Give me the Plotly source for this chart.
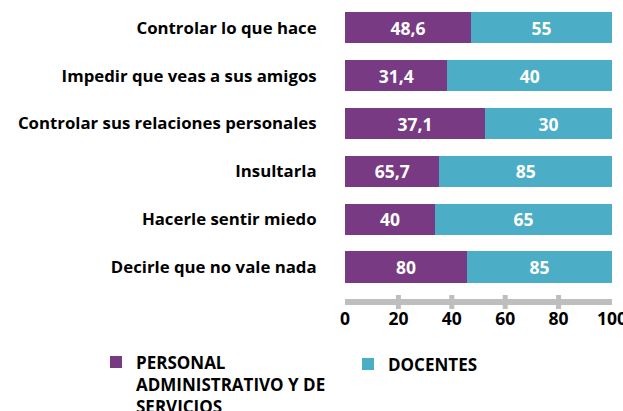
import plotly.graph_objects as go

categories = [
    "Controlar lo que hace",
    "Impedir que veas a sus amigos",
    "Controlar sus relaciones personales",
    "Insultarla",
    "Hacerle sentir miedo",
    "Decirle que no vale nada",
]
# values printed on the bars
pas_labels = [48.6, 31.4, 37.1, 65.7, 40, 80]
doc_labels = [55, 40, 30, 85, 65, 85]
# bar lengths as drawn (share of the 0-100 scale)
pas_share = [47.2, 38.3, 52.4, 35.3, 33.7, 45.7]
doc_share = [52.8, 61.7, 47.6, 64.7, 66.3, 54.3]
tick_vals = [0, 20, 40, 60, 80, 100]

PURPLE = "#773A83"
TEAL = "#4BADC6"
FONT = "Open Sans"


def fmt(v):
    return f"{v:g}".replace(".", ",")


fig = go.Figure()
fig.add_trace(go.Bar(
    y=categories, x=pas_share, orientation="h",
    name="PERSONAL<br>ADMINISTRATIVO Y DE<br>SERVICIOS",
    marker=dict(color=PURPLE, line=dict(width=0)),
    text=[fmt(v) for v in pas_labels], textposition="inside",
    insidetextanchor="middle",
    textfont=dict(family=FONT, size=17.5, color="white", weight=700),
    hoverinfo="skip", legend="legend",
))
fig.add_trace(go.Bar(
    y=categories, x=doc_share, orientation="h",
    name="DOCENTES",
    marker=dict(color=TEAL, line=dict(width=0)),
    text=[fmt(v) for v in doc_labels], textposition="inside",
    insidetextanchor="middle",
    textfont=dict(family=FONT, size=17.5, color="white", weight=700),
    hoverinfo="skip", legend="legend2",
))

shapes = [dict(type="line", xref="x", yref="paper", x0=0, x1=100, y0=0, y1=0,
               line=dict(color="#BEBEBE", width=6), layer="above")]
for t in tick_vals[1:-1]:
    shapes.append(dict(type="rect", xref="x", yref="paper",
                       xsizemode="pixel", xanchor=t, x0=-2.5, x1=2.5,
                       ysizemode="pixel", yanchor=0, y0=-7, y1=7,
                       fillcolor="#BEBEBE", line=dict(width=0), layer="above"))

legend_font = dict(family=FONT, size=17, color="black", weight=700)

fig.update_layout(
    width=623, height=411,
    margin=dict(l=345, r=11, t=4, b=109, autoexpand=False),
    paper_bgcolor="white", plot_bgcolor="white",
    barmode="stack", bargap=0.35,
    showlegend=True,
    font=dict(family=FONT, size=16, color="black"),
    shapes=shapes,
    legend=dict(
        orientation="v", xref="container", yref="container",
        x=96 / 623, y=1 - 344.5 / 411, xanchor="left", yanchor="top",
        valign="top", font=legend_font,
        itemclick=False, itemdoubleclick=False,
    ),
    legend2=dict(
        orientation="v", xref="container", yref="container",
        x=348 / 623, y=1 - 346.5 / 411, xanchor="left", yanchor="top",
        valign="top", font=legend_font,
        itemclick=False, itemdoubleclick=False,
    ),
    xaxis=dict(
        range=[0, 100], tickvals=tick_vals, ticktext=[str(t) for t in tick_vals],
        showgrid=False, zeroline=False, showline=False, automargin=False,
        ticks="outside", ticklen=1, tickcolor="rgba(0,0,0,0)",
        ticklabeloverflow="allow",
        tickfont=dict(family=FONT, size=17.5, color="black", weight=700),
        fixedrange=True,
    ),
    yaxis=dict(
        type="category", categoryorder="array", categoryarray=categories,
        range=[5.732, -0.5], automargin=False,
        showgrid=False, zeroline=False, showline=False,
        ticks="outside", ticklen=24, tickcolor="rgba(0,0,0,0)",
        tickfont=dict(family=FONT, size=16.8, color="black", weight=700),
        fixedrange=True,
    ),
)

fig.write_html("out.html", config={"displayModeBar": False},
               post_script="document.body.style.margin='0';document.body.style.overflow='hidden';")
